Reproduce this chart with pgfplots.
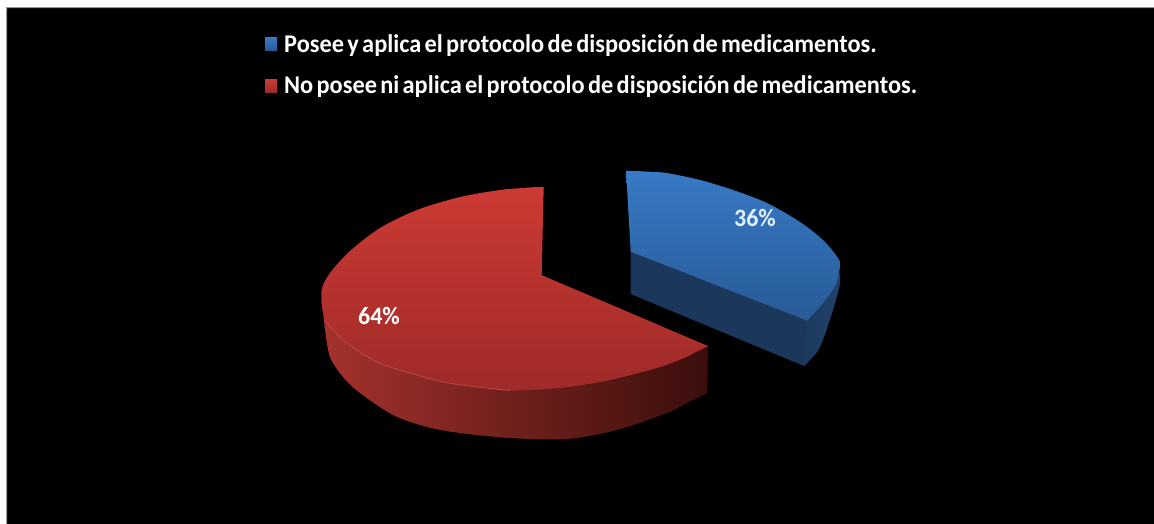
\documentclass[border=0pt]{standalone}
\usepackage{pgfplots}
\pgfplotsset{compat=1.18}
\usepackage{fontspec}
\setmainfont[FakeStretch=0.955,WordSpace=0.6]{Carlito}
\definecolor{rT}{RGB}{205,58,52}
\definecolor{rB}{RGB}{158,42,40}
\definecolor{bT}{RGB}{56,122,198}
\definecolor{bB}{RGB}{40,90,150}
\begin{document}
\begin{tikzpicture}
\path[use as bounding box] (0,0) rectangle (1154pt,523pt);
\begin{axis}[
  at={(0,0)}, anchor=south west,
  scale only axis, width=1154pt, height=523pt,
  xmin=0, xmax=1154, ymin=0, ymax=523, y dir=reverse,
  hide axis, clip=false,
  legend style={at={(265/1154,1-34/523)}, anchor=north west, draw=none, fill=none,
    text=white, font=\bfseries\fontsize{25.5}{27}\selectfont, row sep=22.5pt,
    inner sep=0pt, nodes={inner sep=0pt, anchor=west}},
  legend cell align=left,
  legend image code/.code={\path[#1] (0pt,-6.5pt) rectangle (12pt,6.5pt); \path (19pt,0pt);},
]
\addplot[draw=none, fill=black, forget plot] coordinates {(7,8)(1170,8)(1170,540)(7,540)(7,8)};
\addplot[draw=none, fill={rgb,255:red,150;green,150;blue,150}, forget plot] coordinates {(6,7)(1170,7)(1170,8)(7,8)(7,540)(6,540)(6,7)};
% blue outer side
\addplot[draw=none, smooth, left color={rgb,255:red,28;green,56;blue,92}, right color={rgb,255:red,32;green,66;blue,108}, forget plot] coordinates {(815,285)(830,275)(837,268)(839,272)(840,283)(833,310)(820,347)(808,362)(804,366)(802,360)(800,345)(800,320)(805,300)(815,285)};
% blue inner side
\addplot[draw=none, fill={rgb,255:red,27;green,56;blue,92}, forget plot] coordinates {(630.7,251.7)(807,320.7)(804,366)(630.7,294)(630.7,251.7)};
% blue top
\addplot[draw=none, smooth, top color=bT, bottom color=bB] coordinates {
(626,170.7)(629,170.8)(635,171)(647,171.6)(666.7,173)(700,180)(733,190)(767,203)(800,222)(823,240)(838,258)(840,266)(836,284)(826,299.5)(817,310)(812,315.5)(809,318.8)(807,320.7)
(804.2,319.6)(798.6,317.4)(787.4,313)(765.1,304.3)(718.6,286.1)(672.9,268.2)(650.6,259.5)(639.4,255.1)(633.8,252.9)(630.7,251.7)
(630.5,248.7)(630.2,242.7)(629.5,230.7)(628.3,210.7)(627.2,190.7)(626.5,179.7)(626.2,173.7)(626,170.7)};
\addlegendentry{Posee y aplica el protocolo de disposición de medicamentos.}
% red side
\addplot[draw=none, smooth, left color={rgb,255:red,165;green,50;blue,45}, middle color={rgb,255:red,92;green,26;blue,22}, right color={rgb,255:red,58;green,14;blue,12}, forget plot] coordinates {
(708.3,346.5)(707.9,349.5)(707.8,355)(707.6,367)(707.5,381)(707.4,389)(707.3,393)(704.5,394.4)(699,397)(688,402.5)(667,413)(617,430)(567,439)(510,438)(460,433)(427,427)(393,415)(360,393)(343,377)(330,357)(325,330)(323,310)(322,300)(330,296)(350,300)(390,305)(470,315)(590,330)(660,340)(690,344)(702,345.5)(708.3,346.5)};
% red top
\addplot[draw=none, smooth, top color=rT, bottom color=rB] coordinates {
(543.7,186.7)(540.7,186.9)(535,187.1)(523,188)(500,190)(460,197)(417,210)(380,228)(350,251)(330,273)(321.5,291)(325,320)(343,340)(377,362)(410,373)(443,382)(477,387)(510,390.5)(560,388)(610,380)(660,367)(685,357.5)(697,351.5)(703,348.6)(706,347.1)(708,346)
(705.2,344.8)(699.7,342.5)(688.7,337.8)(666.6,328.4)(622.4,309.5)(582.9,292.7)(560.8,283.3)(549.8,278.6)(544.2,276.2)(541.7,275)
(541.8,272)(541.9,266)(542.2,254)(542.7,230)(543.2,208)(543.5,196)(543.6,190)(543.7,186.7)};
\addlegendentry{No posee ni aplica el protocolo de disposición de medicamentos.}
% rim highlight
\addplot[smooth, line width=0.8pt, draw={rgb,255:red,205;green,95;blue,85}, draw opacity=0.6, forget plot] coordinates {(325,320)(343,340)(377,362)(410,373)(443,382)(477,387)(510,390.5)};
\node[text={rgb,255:red,225;green,240;blue,250}, font=\bfseries\fontsize{25}{27}\selectfont] at (axis cs:755,218) {36\%};
\node[text=white, font=\bfseries\fontsize{25}{27}\selectfont] at (axis cs:379,316) {64\%};
\end{axis}
\end{tikzpicture}
\end{document}
